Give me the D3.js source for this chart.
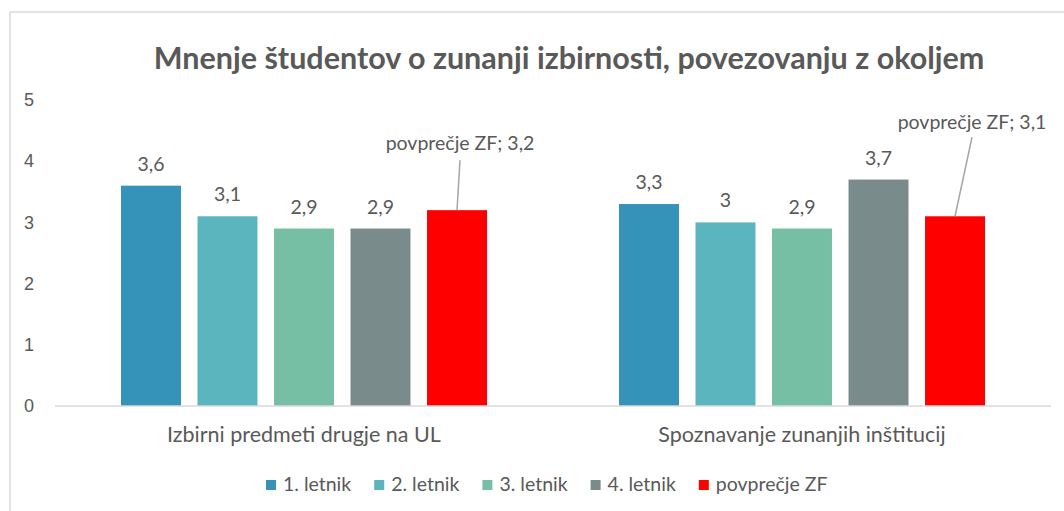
<!DOCTYPE html>
<html>
<head>
<meta charset="utf-8">
<script src="https://cdn.jsdelivr.net/npm/d3@7"></script>
<style>
  body { margin: 0; background: #fff; }
  svg { display: block; font-family: Lato, "Open Sans", sans-serif; }
</style>
</head>
<body>
<svg id="chart" width="1064" height="511"></svg>
<script>
// ---- data ----
const categories = ["Izbirni predmeti drugje na UL", "Spoznavanje zunanjih inštitucij"];
const seriesNames = ["1. letnik", "2. letnik", "3. letnik", "4. letnik", "povprečje ZF"];
const seriesColors = ["#3593B9", "#5AB5BF", "#76BFA5", "#7A8B8C", "#FF0000"];
// values[series][category]
const values = [
  [3.6, 3.3],
  [3.1, 3.0],
  [2.9, 2.9],
  [2.9, 3.7],
  [3.2, 3.1]
];
const yTicks = [0, 1, 2, 3, 4, 5];
const title = "Mnenje študentov o zunanji izbirnosti, povezovanju z okoljem";

const svg = d3.select("#chart");
const textColor = "#595959";

// chart frame (extends past the right/bottom edge like the screenshot)
svg.append("rect")
  .attr("x", 10).attr("y", 12)
  .attr("width", 1100).attr("height", 600)
  .attr("fill", "none")
  .attr("stroke", "#D9D9D9")
  .attr("stroke-width", 1.5);

const plot = { left: 55, right: 1051, top: 100, bottom: 406 };

const y = d3.scaleLinear().domain([0, 5]).range([plot.bottom, plot.top]);
const x0 = d3.scaleBand().domain(categories).range([plot.left, plot.right]).padding(0);
const groupPad = 66;
const x1 = d3.scaleBand().domain(seriesNames)
  .range([groupPad, x0.bandwidth() - groupPad])
  .paddingInner(0.216).paddingOuter(0);

const fmt = v => String(v).replace(".", ",");

// title
svg.append("text")
  .attr("x", 569).attr("y", 69)
  .attr("text-anchor", "middle")
  .attr("fill", textColor)
  .style("font-size", "30.5px")
  .style("font-weight", "bold")
  .text(title);

// y tick labels
const yAxis = d3.axisLeft(y).tickValues(yTicks).tickSize(0).tickPadding(0).tickFormat(d3.format("d"));
const yg = svg.append("g").attr("transform", "translate(34,0)").call(yAxis);
yg.select(".domain").remove();
yg.selectAll("text").attr("fill", textColor).style("font-size", "18px").attr("font-family", null);

// bars
const rows = [];
seriesNames.forEach((s, si) => {
  categories.forEach((c, ci) => rows.push({ s, si, c, v: values[si][ci] }));
});

svg.append("g").selectAll("rect")
  .data(rows)
  .join("rect")
  .attr("x", d => x0(d.c) + x1(d.s))
  .attr("y", d => y(d.v))
  .attr("width", x1.bandwidth())
  .attr("height", d => y(0) - y(d.v))
  .attr("fill", d => seriesColors[d.si]);

// baseline
svg.append("line")
  .attr("x1", plot.left).attr("x2", plot.right)
  .attr("y1", y(0)).attr("y2", y(0))
  .attr("stroke", "#D9D9D9").attr("stroke-width", 1.5);

// value labels (regular series)
const lastIdx = seriesNames.length - 1;
svg.append("g").selectAll("text")
  .data(rows.filter(d => d.si !== lastIdx))
  .join("text")
  .attr("x", d => x0(d.c) + x1(d.s) + x1.bandwidth() / 2)
  .attr("y", d => y(d.v) - 15)
  .attr("text-anchor", "middle")
  .attr("fill", textColor)
  .style("font-size", "19.5px")
  .text(d => fmt(d.v));

// callout labels for the average series
const callouts = [{ dx: 3, dy: -60, gap: 10 }, { dx: 17, dy: -87, gap: 8 }];
const avgRows = rows.filter(d => d.si === lastIdx);
avgRows.forEach((d, i) => {
  const cx = x0(d.c) + x1(d.s) + x1.bandwidth() / 2;
  const top = y(d.v);
  const o = callouts[i];
  svg.append("line")
    .attr("x1", cx).attr("y1", top)
    .attr("x2", cx + o.dx).attr("y2", top + o.dy + o.gap)
    .attr("stroke", "#A6A6A6").attr("stroke-width", 1.5);
  svg.append("text")
    .attr("x", cx + o.dx).attr("y", top + o.dy)
    .attr("text-anchor", "middle")
    .attr("fill", textColor)
    .style("font-size", "19.5px")
    .text(d.s + "; " + fmt(d.v));
});

// category labels
svg.append("g").selectAll("text")
  .data(categories)
  .join("text")
  .attr("x", d => x0(d) + x0.bandwidth() / 2)
  .attr("y", 442)
  .attr("text-anchor", "middle")
  .attr("fill", textColor)
  .style("font-size", "21.5px")
  .text(d => d);

// legend
const legend = svg.append("g");
let lx = 266;
seriesNames.forEach((s, i) => {
  const item = legend.append("g").attr("transform", `translate(${lx},0)`);
  item.append("rect")
    .attr("x", 0).attr("y", 480)
    .attr("width", 10).attr("height", 10)
    .attr("fill", seriesColors[i]);
  const t = item.append("text")
    .attr("x", 17).attr("y", 491)
    .attr("fill", textColor)
    .style("font-size", "19.5px")
    .text(s);
  lx += 17 + t.node().getComputedTextLength() + 23;
});
</script>
</body>
</html>
